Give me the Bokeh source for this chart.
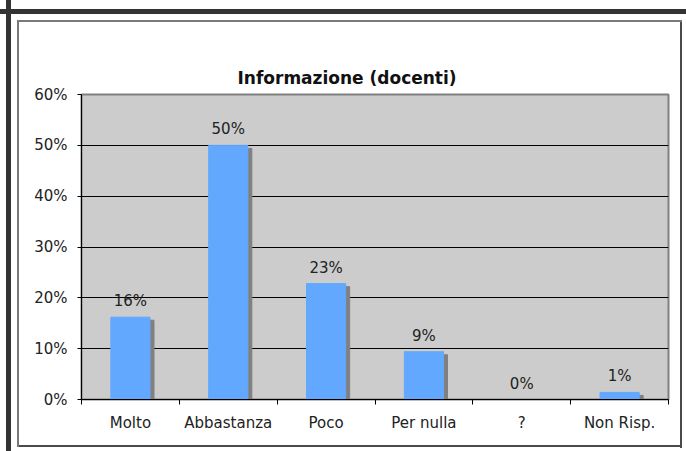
import numpy as np
from bokeh.plotting import figure
from bokeh.models import (ColumnDataSource, Range1d, FixedTicker, NumeralTickFormatter,
                          LabelSet, Title)
from bokeh.core.properties import value
from bokeh.embed import file_html
from bokeh.resources import INLINE

# ---- data ----
title_text = "Informazione (docenti)"
categories = ["Molto", "Abbastanza", "Poco", "Per nulla", "?", "Non Risp."]
values = [0.162, 0.500, 0.228, 0.094, 0.0, 0.014]
y_ticks = [0.0, 0.1, 0.2, 0.3, 0.4, 0.5, 0.6]

FONT = "DejaVu Sans"
TXT = "#222222"

x = np.arange(len(categories)) + 0.5
vals = np.array(values)
src = ColumnDataSource(dict(
    x=x, top=vals,
    label=[f"{round(v * 100):.0f}%" for v in values],
))
shadow = ColumnDataSource(dict(x=x + 0.041, top=np.maximum(vals - 0.006, 0)))

p = figure(width=686, height=451, output_backend="svg", toolbar_location=None,
           x_range=Range1d(0, len(categories)), y_range=Range1d(0, 0.6),
           min_border_left=81, min_border_right=18, min_border_top=94, min_border_bottom=52)
p.background_fill_color = "#CCCCCC"
p.border_fill_color = None
p.outline_line_color = "#808080"
p.outline_line_width = 2

# title
p.title.text = title_text
p.title.align = "left"
p.title.offset = 156
p.title.vertical_align = "top"
p.title.text_font = FONT
p.title.text_font_style = "bold"
p.title.text_font_size = "17px"
p.title.text_color = "#111111"

# invisible spacer between the title and the plot area
spacer = Title(text="|", text_font_size="16px", text_alpha=0, standoff=0)
p.above = [spacer] + list(p.above)


def band(color, x0, y0, w, h):
    return f"linear-gradient({color},{color}) {x0}px {y0}px / {w} {h} no-repeat"


p.styles = {"background": ", ".join([
    band("#333333", 6, 0, "5px", "100%"),
    band("#333333", 0, 9, "100%", "5px"),
    band("#7a7a7a", 17, 20, "2px", "427px"),
    band("#7a7a7a", 17, 20, "665px", "2px"),
    band("#4a4a4a", 680, 20, "2px", "428px"),
    band("#4a4a4a", 17, 445, "665px", "2px"),
]) + ", white"}

p.vbar(x="x", top="top", width=0.4, source=shadow, color="#808080")
p.vbar(x="x", top="top", width=0.4, source=src, color="#62A8FF")

p.add_layout(LabelSet(x="x", y="top", text="label", source=src, y_offset=11,
                      text_align="center", text_baseline="alphabetic",
                      text_font=value(FONT), text_font_size=value("15px"), text_color=TXT))

# grid
p.xgrid.grid_line_color = None
p.ygrid.grid_line_color = "black"
p.ygrid.grid_line_width = 1
p.ygrid.ticker = FixedTicker(ticks=y_ticks)

# y axis
ya = p.yaxis[0]
ya.ticker = FixedTicker(ticks=y_ticks)
ya.formatter = NumeralTickFormatter(format="0%")
ya.axis_line_color = "black"
ya.major_tick_line_color = "black"
ya.major_tick_out = 4
ya.major_tick_in = 0
ya.minor_tick_line_color = None
ya.major_label_standoff = 10
ya.major_label_text_font = FONT
ya.major_label_text_font_size = "15px"
ya.major_label_text_color = TXT

# x axis
xa = p.xaxis[0]
xa.ticker = FixedTicker(ticks=list(x), minor_ticks=list(range(len(categories) + 1)))
xa.major_label_overrides = {float(xv): c for xv, c in zip(x, categories)}
xa.axis_line_color = "black"
xa.major_tick_line_color = None
xa.major_tick_out = 0
xa.major_tick_in = 0
xa.minor_tick_line_color = "black"
xa.minor_tick_out = 5
xa.minor_tick_in = 0
xa.major_label_standoff = 9
xa.major_label_text_font = FONT
xa.major_label_text_font_size = "15px"
xa.major_label_text_color = TXT

open("out.html", "w").write(file_html(p, INLINE))
